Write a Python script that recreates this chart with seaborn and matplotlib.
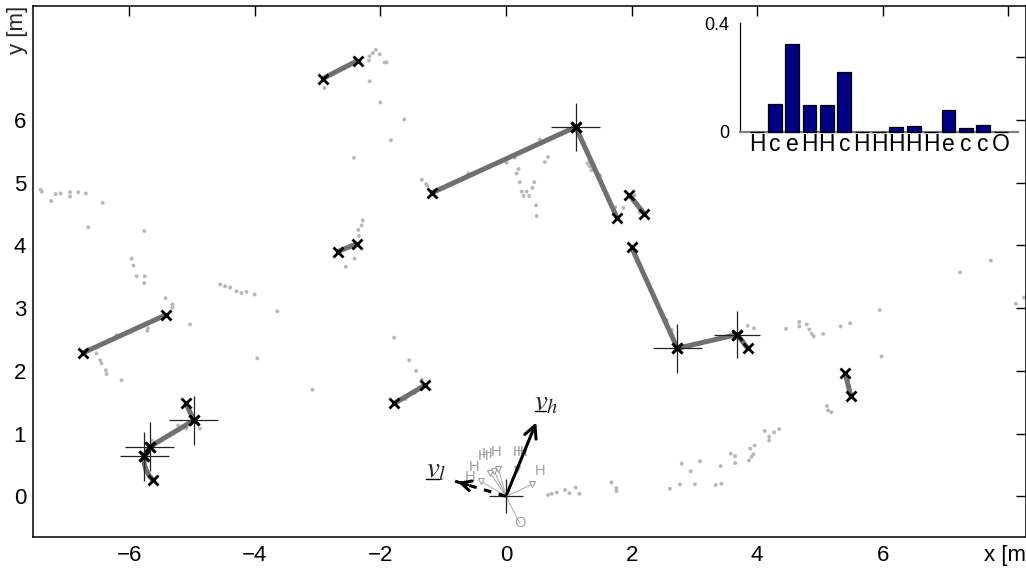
import numpy as np
import pandas as pd
import matplotlib
matplotlib.use('Agg')
import matplotlib.pyplot as plt
import seaborn as sns

sns.set_theme(style="white")
plt.rcParams['font.family'] = ['Liberation Sans', 'DejaVu Sans']
plt.rcParams['mathtext.fontset'] = 'stix'

# laser scan points [m]
scan_x = [-7.41, -7.39, -7.24, -7.17, -7.09, -6.94, -6.94, -6.81, -6.69, -6.42, -6.65, -5.76,
          -5.96, -5.93, -5.88, -5.75, -5.76, -5.42, -5.31, -5.31, -5.71, -5.03,
          -4.55, -4.47, -4.39, -4.29, -4.21, -4.13, -4.00, -3.64, -3.96, -3.08,
          -6.52, -6.46, -6.44, -6.37, -6.36, -6.12, -6.20, -6.04, -5.70,
          -2.07, -2.12, -2.17, -2.18, -2.01, -1.93, -1.90, -2.89, -2.17, -2.00, -1.62, -1.83, -2.42,
          -1.34, -1.27, -1.25,
          -0.60, 0.01, 0.14, 0.54, 0.67, 0.62, 0.20, 0.17, 0.22, 0.45, 0.25, 0.33, 0.28, 0.37, 0.42, 0.48, 0.49,
          1.30, 1.33, 1.36, 1.50, 1.74, 1.87, 2.05, 2.13, 2.08, 2.56, 2.64,
          -1.54, -1.43, -1.34, -1.78,
          -2.28, -2.30, -2.35, -2.34, -2.41, -2.55,
          7.72, 7.23, 8.25, 8.12, 5.95, 5.98, 4.46, 4.67, 4.67, 4.79, 4.83, 4.87, 4.90, 5.05, 5.33, 5.48,
          5.11, 5.13, 5.18, 4.12, 4.19, 4.27, 4.35, 3.85, 3.95,
          0.67, 0.73, 0.81, 0.94, 1.01, 1.11, 1.17, 1.68, 1.76, 1.76, 2.61, 2.77, 3.01, 3.34, 3.43,
          2.80, 2.94, 3.09, 3.42, 3.58, 3.65, 3.65, 3.87, 3.91, 3.94, 3.89, 3.96, 4.19,
          -5.22, -5.09, -4.87, -5.64, -1.60, -1.45]
scan_y = [4.89, 4.86, 4.71, 4.82, 4.83, 4.85, 4.78, 4.85, 4.83, 4.68, 4.29, 4.23,
          3.79, 3.68, 3.51, 3.51, 3.40, 3.16, 3.06, 3.01, 2.64, 2.74,
          3.38, 3.35, 3.33, 3.27, 3.24, 3.26, 3.22, 2.95, 2.20, 1.70,
          2.28, 2.17, 2.12, 2.01, 1.95, 1.85, 2.57, 2.62, 2.68,
          7.12, 7.07, 7.02, 6.95, 7.05, 6.92, 6.92, 6.51, 6.62, 6.28, 6.01, 5.68, 5.40,
          5.05, 4.98, 4.95,
          5.15, 5.32, 5.40, 5.69, 5.41, 5.33, 5.22, 5.15, 5.01, 5.01, 4.86, 4.86, 4.79, 4.79, 4.92, 4.64, 4.47,
          5.31, 5.26, 5.20, 5.12, 4.61, 4.60, 4.80, 4.53, 3.82, 2.81, 2.65,
          2.17, 2.00, 1.86, 2.53,
          4.40, 4.32, 4.25, 4.15, 3.79, 3.66,
          3.76, 3.57, 3.17, 3.07, 2.97, 2.23, 2.67, 2.78, 2.71, 2.74, 2.66, 2.59, 2.55, 2.59, 2.71, 2.76,
          1.44, 1.37, 1.34, 1.04, 0.95, 1.02, 1.07, 2.72, 2.68,
          0.02, 0.04, 0.06, 0.10, 0.05, 0.14, 0.04, 0.22, 0.13, 0.08, 0.12, 0.19, 0.19, 0.18, 0.20,
          0.52, 0.40, 0.56, 0.48, 0.68, 0.64, 0.53, 0.57, 0.63, 0.67, 0.76, 0.81, 0.89,
          1.13, 1.08, 1.08, 0.89, 1.55, 1.65]

# extracted line features
wall_x = [[-2.92, -2.36], [-1.18, 1.11], [1.11, 1.77], [1.96, 2.20], [2.00, 2.73],
          [2.73, 3.68], [3.68, 3.85], [5.40, 5.49], [-2.68, -2.37], [-6.73, -5.42],
          [-1.78, -1.29], [-5.10, -4.97], [-4.97, -5.67], [-5.67, -5.76],
          [-5.76, -5.76, -5.73, -5.68, -5.62]]
wall_y = [[6.66, 6.95], [4.84, 5.89], [5.89, 4.44], [4.81, 4.51], [3.97, 2.36],
          [2.36, 2.58], [2.58, 2.36], [1.97, 1.60], [3.90, 4.03], [2.29, 2.89],
          [1.48, 1.77], [1.49, 1.21], [1.21, 0.79], [0.79, 0.64],
          [0.64, 0.52, 0.42, 0.33, 0.26]]

# corner uncertainty crosses
cross_x = [1.11, 2.73, 3.68, -4.97, -5.67, -5.76, 0.0]
cross_y = [5.89, 2.36, 2.58, 1.21, 0.79, 0.64, 0.0]
cross_r = [0.39, 0.39, 0.37, 0.39, 0.39, 0.39, 0.27]

# hypotheses around the robot
hyp_x = [-0.51, -0.57, -0.36, -0.30, -0.16, 0.20, 0.25, 0.54]
hyp_y = [0.46, 0.31, 0.64, 0.67, 0.71, 0.70, 0.71, 0.40]
tri_x = [-0.40, -0.25, -0.19, -0.12, 0.18, 0.42]
tri_y = [0.24, 0.37, 0.41, 0.44, 0.43, 0.19]
obj_x, obj_y = 0.22, -0.43

v_h = (0.50, 1.22)
v_l = (-0.81, 0.24)

# inset histogram
bar_labels = ['H', 'c', 'e', 'H', 'H', 'c', 'H', 'H', 'H', 'H', 'H', 'e', 'c', 'c', 'O']
bar_vals = [0.0, 0.103, 0.324, 0.099, 0.099, 0.222, 0.0, 0.0, 0.018, 0.022, 0.0, 0.082, 0.016, 0.026, 0.0]
bar_pos = list(range(1, 16))

fig = plt.figure(figsize=(10.26, 5.68), dpi=100)
ax = fig.add_axes([33 / 1026, 31 / 568, 993 / 1026, 531 / 568])

scan = pd.DataFrame({'x': scan_x, 'y': scan_y})
sns.scatterplot(data=scan, x='x', y='y', ax=ax, s=8, color='#b8b8b8',
                edgecolor='none', zorder=2, legend=False)

for xs, ys in zip(wall_x, wall_y):
    ax.plot(xs, ys, color='#707070', lw=3.6, solid_capstyle='butt', zorder=3)
for xs, ys in zip(wall_x, wall_y):
    ax.plot([xs[0], xs[-1]], [ys[0], ys[-1]], ls='none', marker='x',
            ms=6.5, mew=2, color='black', zorder=5)

ax.errorbar(cross_x, cross_y, xerr=cross_r, yerr=cross_r, fmt='none',
            ecolor='#222222', elinewidth=0.9, capsize=0, zorder=4)

# gray hypotheses
for tx, ty in zip(tri_x + [obj_x], tri_y + [obj_y]):
    ax.plot([0, tx], [0, ty], color='#a8a8a8', lw=0.7, zorder=2)
ax.plot(tri_x, tri_y, ls='none', marker='v', ms=4, mfc='white', mec='#a0a0a0', mew=0.8, zorder=3)
for hx, hy in zip(hyp_x, hyp_y):
    ax.text(hx, hy, 'H', color='#a0a0a0', fontsize=10.5, ha='center', va='center', zorder=3)
ax.text(obj_x, obj_y, 'O', color='#a0a0a0', fontsize=10.5, ha='center', va='center', zorder=3)

# motion vectors
ax.annotate('', xy=v_h, xytext=(0, 0),
            arrowprops=dict(arrowstyle='->', lw=2.2, color='black', mutation_scale=22), zorder=6)
ax.plot([0, v_l[0]], [0, v_l[1]], color='black', lw=2.2, ls=(0, (2.5, 2.5)), zorder=6)
ax.annotate('', xy=v_l, xytext=(v_l[0] * 0.7, v_l[1] * 0.7),
            arrowprops=dict(arrowstyle='->', lw=2.2, color='black', mutation_scale=18), zorder=6)
ax.text(0.45, 1.37, r'$v_h$', fontsize=21, ha='left', va='baseline', zorder=6)
ax.plot([0.46, 0.63], [1.355, 1.355], color='black', lw=1.0, zorder=6)
ax.text(-1.28, 0.30, r'$v_l$', fontsize=21, ha='left', va='baseline', zorder=6)
ax.plot([-1.27, -1.07], [0.275, 0.275], color='black', lw=1.0, zorder=6)

ax.set_xlim(-7.53, 8.28)
ax.set_ylim(-0.65, 7.82)
ax.set_xticks([-6, -4, -2, 0, 2, 4, 6, 8])
ax.set_xticklabels(['\u22126', '\u22124', '\u22122', '0', '2', '4', '6', 'x [m]'])
ax.set_yticks([0, 1, 2, 3, 4, 5, 6, 7])
ax.set_yticklabels(['0', '1', '2', '3', '4', '5', '6', ''])
ax.set_xlabel('')
ax.set_ylabel('')
ax.text(-0.016, 0.955, 'y [m]', transform=ax.transAxes, rotation=90,
        ha='center', va='center', fontsize=16)
ax.tick_params(direction='in', length=7, width=1, top=True, right=True,
               labelsize=16, colors='black')
ax.tick_params(axis='x', pad=5.5)
ax.tick_params(axis='y', pad=5)
for sp in ax.spines.values():
    sp.set_color('black')
    sp.set_linewidth(1.1)

# inset
ins = fig.add_axes([740 / 1026, 436 / 568, 278 / 1026, 109 / 568])
ins.patch.set_alpha(0)
sns.barplot(x=bar_pos, y=bar_vals, native_scale=True, width=0.8, color='#000080',
            saturation=1, edgecolor='black', linewidth=0.9, ax=ins)
for p in ins.patches:
    p.set_zorder(3)
    p.set_clip_on(False)
ins.set_xlim(0, 16)
ins.set_ylim(0, 0.4)
ins.set_xticks(bar_pos)
ins.set_xticklabels(bar_labels)
ins.set_yticks([0, 0.2, 0.4])
ins.set_yticklabels(['0', '', '0.4'])
ins.set_xlabel('')
ins.set_ylabel('')
ins.tick_params(axis='x', length=0, pad=1, labelsize=16.5, colors='black')
ins.tick_params(axis='y', direction='in', length=3, width=0.8, pad=7.5, labelsize=13, colors='black')
ins.spines['top'].set_visible(False)
ins.spines['right'].set_visible(False)
ins.spines['left'].set_color('black')
ins.spines['left'].set_linewidth(0.9)
ins.spines['bottom'].set_color('#808080')
ins.spines['bottom'].set_linewidth(1.6)

fig.savefig('out.png', dpi=100)
